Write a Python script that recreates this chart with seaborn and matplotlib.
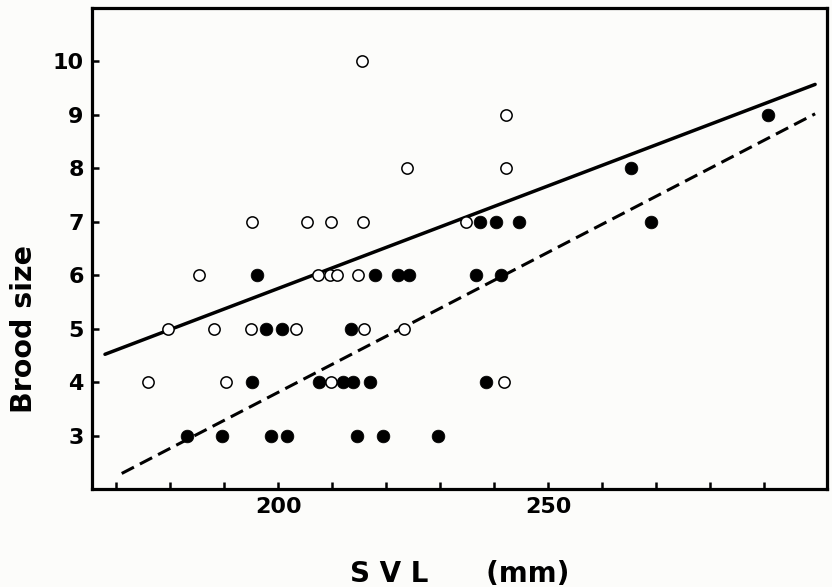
import matplotlib
matplotlib.use("Agg")
import matplotlib.pyplot as plt
import seaborn as sns
import pandas as pd

# Brood size vs snout-vent length, two groups (open / filled circles)
open_svl = [215.5, 242.2, 223.8, 242.2,
            195.2, 205.4, 209.8, 215.6, 234.8,
            185.4, 207.3, 209.5, 210.8, 214.8,
            179.6, 188.0, 195.0, 203.2, 215.9, 223.2,
            175.8, 190.3, 209.8, 241.8]
open_brood = [10, 9, 8, 8,
              7, 7, 7, 7, 7,
              6, 6, 6, 6, 6,
              5, 5, 5, 5, 5, 5,
              4, 4, 4, 4]

filled_svl = [290.6, 265.3,
              237.4, 240.3, 244.6, 269.0,
              196.0, 217.9, 222.2, 224.2, 236.6, 241.2,
              197.7, 200.6, 213.5,
              195.2, 207.6, 211.9, 213.9, 216.9, 238.4,
              183.1, 189.6, 198.7, 201.6, 214.5, 219.3, 229.5]
filled_brood = [9, 8,
                7, 7, 7, 7,
                6, 6, 6, 6, 6, 6,
                5, 5, 5,
                4, 4, 4, 4, 4, 4,
                3, 3, 3, 3, 3, 3, 3]

# regression lines, read at their end points
solid_fit_x = [167.9, 299.4]
solid_fit_y = [4.52, 9.57]
dashed_fit_x = [171.0, 299.4]
dashed_fit_y = [2.29, 9.02]

x_ticks = list(range(170, 300, 10))
x_labels = ["200" if t == 200 else "250" if t == 250 else "" for t in x_ticks]
y_ticks = [3, 4, 5, 6, 7, 8, 9, 10]

df = pd.DataFrame({
    "svl": open_svl + filled_svl,
    "brood": open_brood + filled_brood,
    "group": ["open"] * len(open_svl) + ["filled"] * len(filled_svl),
})

sns.set_style("ticks")
plt.rcParams["font.family"] = ["DejaVu Sans"]
plt.rcParams["text.color"] = "black"
plt.rcParams["axes.labelcolor"] = "black"

fig = plt.figure(figsize=(8.32, 5.87), dpi=100)
fig.patch.set_facecolor("#fcfcfa")
ax = fig.add_axes([0.1106, 0.167, 0.8834, 0.8194])
ax.set_facecolor("#fcfcfa")

# fitted lines
sns.lineplot(x=solid_fit_x, y=solid_fit_y, ax=ax, color="black", lw=2.5)
sns.lineplot(x=dashed_fit_x, y=dashed_fit_y, ax=ax, color="black", lw=2.2,
             dashes=False, linestyle=(0, (4.5, 2.2)))

# points
sns.scatterplot(data=df[df.group == "open"], x="svl", y="brood", ax=ax,
                marker="o", s=66, facecolor="white", edgecolor="black",
                linewidth=1.1, zorder=3)
sns.scatterplot(data=df[df.group == "filled"], x="svl", y="brood", ax=ax,
                marker="o", s=84, color="black", edgecolor="black",
                linewidth=0.5, zorder=4)

ax.set_xlim(165.5, 301.6)
ax.set_ylim(2.0, 11.0)
ax.set_xticks(x_ticks)
ax.set_xticklabels(x_labels)
ax.set_yticks(y_ticks)
ax.set_yticklabels([str(t) for t in y_ticks])

ax.tick_params(direction="in", length=5, width=1.8, labelsize=16,
               pad=6, colors="black", labelcolor="black")
for lab in ax.get_xticklabels() + ax.get_yticklabels():
    lab.set_fontweight("bold")

for sp in ax.spines.values():
    sp.set_linewidth(2.3)
    sp.set_color("black")

ax.set_xlabel("S V L      (mm)", fontsize=20, fontweight="bold",
              labelpad=31, color="black")
ax.set_ylabel("Brood size", fontsize=20.5, fontweight="bold", color="black")
ax.yaxis.set_label_coords(-0.074, 0.333)

fig.savefig("out.png", dpi=100, facecolor=fig.get_facecolor())
